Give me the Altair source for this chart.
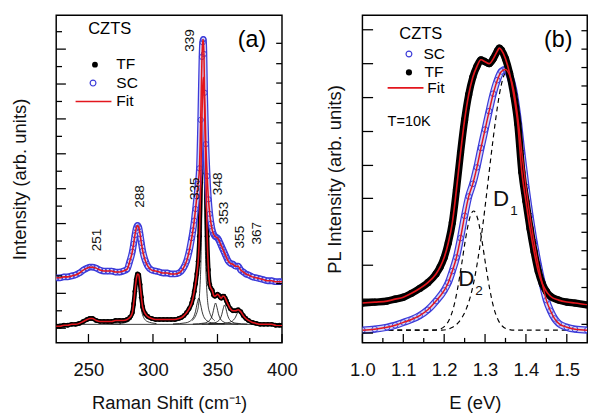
import altair as alt
import pandas as pd

FONT = "Liberation Sans"
BLUE = "#3b3bd9"
LIGHT = "#d4d4f7"
RED = "#e3161d"

# ---------------- Panel (a): Raman ----------------
ram_x = [225, 228, 231, 234, 237, 240, 243, 246, 249, 251, 253, 256, 259, 262, 265, 268, 271, 274, 277, 280,
         282, 284, 285, 286, 287, 288, 289, 290, 291, 292, 294, 296, 299, 302, 305, 308, 311, 314, 317, 320,
         322, 324, 326, 328, 330, 331, 332, 333, 334, 335, 336, 337, 338, 338.5, 339, 339.5, 340, 341, 342, 343,
         344, 345, 346, 347, 348, 349, 350, 351, 352, 353, 354, 355, 356, 357, 358, 360, 362, 364, 366, 368,
         370, 372, 374, 377, 380, 383, 386, 389, 392, 395, 398, 400]
ram_tf = [17, 17, 18, 18, 19, 19, 20, 22, 24, 25, 25, 23, 22, 22, 22, 22, 23, 23, 23, 24,
          26, 31, 40, 53, 65, 71, 70, 60, 47, 37, 30, 27, 25, 24, 24, 24, 24, 24, 24, 25,
          26, 28, 31, 35, 41, 46, 53, 61, 71, 84, 110, 165, 235, 262, 274, 265, 240, 175, 110, 75,
          60, 56, 54, 49, 48, 49, 50, 49, 47, 46, 48, 48, 46, 43, 40, 35, 33, 33, 34, 32,
          28, 25, 23, 21, 20, 19, 19, 19, 19, 18, 18, 18]
ram_sc = [67, 67, 68, 68, 69, 70, 72, 75, 77, 78, 78, 77, 75, 74, 74, 74, 73, 73, 74, 76,
          84, 94, 102, 111, 118, 121, 119, 112, 103, 95, 85, 79, 75, 74, 73, 72, 72, 71, 71, 72,
          74, 78, 84, 94, 108, 116, 126, 138, 151, 164, 180, 230, 295, 310, 313, 298, 258, 205, 172, 148,
          133, 123, 116, 112, 110, 109, 108, 106, 103, 100, 97, 94, 91, 88, 85, 82, 81, 79, 79, 75,
          73, 71, 70, 68, 67, 66, 65, 64, 64, 63, 63, 63]

# fitted Lorentzian components (x, intensity)
c_base = ([225, 400], [19, 19])
c251 = ([227, 239, 245, 248, 251, 254, 257, 263, 275], [19.3, 20, 21.5, 23, 24, 23, 21.5, 20, 19.3])
c288 = ([274, 281, 284.7, 286.5, 287.4, 288.3, 289.2, 290.1, 291.9, 295.5, 302.7],
        [19.8, 22, 29, 44.5, 60, 70, 60, 44.5, 29, 22, 19.8])
c335 = ([315.5, 325.5, 330.5, 333, 334.25, 335.5, 336.75, 338, 340.5, 345.5, 355.5],
        [19.4, 20.6, 24.4, 32.5, 40.6, 46, 40.6, 32.5, 24.4, 20.6, 19.4])
c339 = ([330.2, 334.6, 336.8, 337.9, 338.45, 339, 339.55, 340.1, 341.2, 343.4, 347.8],
        [22.7, 33.5, 68.2, 142, 215.8, 265, 215.8, 142, 68.2, 33.5, 22.7])
c348 = ([330.9, 339.7, 344.1, 346.3, 347.4, 348.5, 349.6, 350.7, 352.9, 357.3, 366.1],
        [19.3, 20.3, 23.4, 30, 36.6, 41, 36.6, 30, 23.4, 20.3, 19.3])
c355 = ([337.9, 346.7, 351.1, 353.3, 354.4, 355.5, 356.6, 357.7, 359.9, 364.3, 373.1],
        [19.3, 20.2, 23, 29, 35, 39, 35, 29, 23, 20.2, 19.3])
c367 = ([343, 355, 361, 364, 365.5, 367, 368.5, 370, 373, 379, 391],
        [19.2, 19.9, 22, 26.5, 31, 34, 31, 26.5, 22, 19.9, 19.2])

peak_text = ["251", "288", "335", "339", "348", "353", "355", "367"]
peak_x = [256.5, 290.3, 332.8, 328.7, 350.4, 354.9, 367.7, 380.5]
peak_y = [106, 151, 159, 312, 164, 134, 109, 113]

a_xmajor = [250, 300, 350, 400]
a_xminor = [275, 325, 375]
a_yleft_major = [303, 267, 231, 195, 159, 123, 87, 51, 15]
a_yleft_minor = [321, 285, 249, 213, 177, 141, 105, 69, 33]
a_yright = [309, 288, 268, 247, 227, 206, 185, 164, 143, 123, 103, 82, 61, 40, 19]

# ---------------- Panel (b): PL ----------------
pl_tf_E = [1.00, 1.03, 1.06, 1.08, 1.10, 1.12, 1.14, 1.16, 1.18, 1.19, 1.20, 1.21, 1.22, 1.23, 1.24, 1.25,
           1.26, 1.27, 1.28, 1.29, 1.30, 1.31, 1.32, 1.33, 1.335, 1.34, 1.35, 1.36, 1.37, 1.38, 1.39, 1.40,
           1.41, 1.42, 1.43, 1.44, 1.45, 1.46, 1.48, 1.50, 1.52, 1.55]
pl_tf = [41, 42, 43, 45, 47, 51, 56, 62, 71, 78, 88, 103, 124, 158, 196, 230,
         256, 274, 285, 292, 290, 288, 293, 301, 304, 302, 293, 278, 256, 226, 176, 146,
         118, 94, 74, 61, 53, 48, 44, 42, 41, 39]
pl_sc_E = [1.00, 1.03, 1.06, 1.08, 1.10, 1.12, 1.14, 1.16, 1.18, 1.20, 1.21, 1.22, 1.23, 1.24, 1.25, 1.26,
           1.27, 1.28, 1.29, 1.30, 1.31, 1.32, 1.33, 1.34, 1.35, 1.36, 1.37, 1.38, 1.39, 1.40, 1.41, 1.42,
           1.43, 1.44, 1.45, 1.46, 1.47, 1.48, 1.50, 1.52, 1.55]
pl_sc = [13, 14, 16, 18, 21, 24, 28, 34, 43, 54, 62, 74, 88, 108, 131, 151,
         164, 181, 201, 220, 239, 257, 271, 280, 282, 276, 261, 233, 196, 161, 131, 104,
         81, 61, 44, 33, 25, 20, 16, 14, 13]
d1_E = [1.00, 1.195, 1.215, 1.235, 1.255, 1.265, 1.275, 1.285, 1.295, 1.305, 1.315, 1.325, 1.335, 1.345, 1.355,
        1.365, 1.375, 1.385, 1.395, 1.405, 1.415, 1.425, 1.435, 1.445, 1.455, 1.475, 1.495, 1.515, 1.55]
d1_I = [13, 13, 15, 21, 36, 49, 68, 93, 123, 158, 194, 227.5, 256, 274.5, 281,
        274.5, 256, 227.5, 194, 158, 123, 93, 68, 49, 36, 21, 15, 13, 13]
d2_E = [1.00, 1.172, 1.192, 1.202, 1.212, 1.222, 1.232, 1.242, 1.252, 1.262, 1.272, 1.282, 1.292, 1.302, 1.312,
        1.322, 1.332, 1.342, 1.352, 1.372, 1.55]
d2_I = [13, 13, 14.5, 17.3, 23.5, 35, 54, 79, 106.5, 128, 136, 128, 106.5, 79, 54, 35, 23.5, 17.3, 14.5, 13, 13]

b_xmajor = [1.0, 1.1, 1.2, 1.3, 1.4, 1.5]
b_xminor = [1.05, 1.15, 1.25, 1.35, 1.45]
b_yleft = [323, 288, 253, 218, 183, 149, 115, 80, 45, 10]
b_yright = [322, 303, 284, 265, 246, 227, 208, 189, 170, 152, 133, 114, 95, 76, 57, 38, 19]

W_A, W_B, H = 233, 232, 338
one = pd.DataFrame({"k": [0]})


def txt(s, x, y, size=16, align="left", angle=0):
    return alt.Chart(one).mark_text(text=s, fontSize=size, font=FONT, align=align,
                                    baseline="middle", color="black", angle=angle).encode(
        x=alt.value(x), y=alt.value(y))


def dot(x, y, filled, color, size):
    if filled:
        m = alt.Chart(one).mark_circle(color=color, size=size, opacity=1)
    else:
        m = alt.Chart(one).mark_point(shape="circle", filled=False, color=color, size=size,
                                      strokeWidth=1.2, opacity=1)
    return m.encode(x=alt.value(x), y=alt.value(y))


def hline(x1, x2, y, color):
    return alt.Chart(one).mark_rule(color=color, strokeWidth=1.6).encode(
        x=alt.value(x1), x2=alt.value(x2), y=alt.value(y))


def make_panel(xs, ys, xaxis, yaxis):
    def X(f):
        return alt.X(f, type="quantitative", scale=xs, axis=xaxis)

    def Y(f):
        return alt.Y(f, type="quantitative", scale=ys, axis=yaxis)
    return X, Y


def ticks(X, Y, xmaj, xmin, yl_maj, yl_min, yr, width, lmaj, lmin, lr):
    layers = []
    for vals, ln in ((xmaj, 9), (xmin, 5)):
        layers.append(alt.Chart(pd.DataFrame({"v": vals})).mark_rule(color="black", strokeWidth=1.3).encode(
            x=X("v"), y=alt.value(H), y2=alt.value(H - ln)))
    for vals, ln in ((yl_maj, lmaj), (yl_min, lmin)):
        if vals:
            layers.append(alt.Chart(pd.DataFrame({"v": vals})).mark_rule(color="black", strokeWidth=1.3).encode(
                y=Y("v"), x=alt.value(0), x2=alt.value(ln)))
    layers.append(alt.Chart(pd.DataFrame({"v": yr})).mark_rule(color="black", strokeWidth=1.3).encode(
        y=Y("v"), x=alt.value(width), x2=alt.value(width - lr)))
    return layers


# ---- panel a
xa = alt.Scale(domain=[225, 400], nice=False, zero=False)
ya = alt.Scale(domain=[0, H], nice=False, zero=False)
ax_xa = alt.Axis(values=a_xmajor, ticks=False, tickSize=0, domain=False, grid=False, labelFontSize=19,
                 labelPadding=19, labelFlush=False, format="d", title="Raman Shift (cm⁻¹)",
                 titleFontSize=19, titleFontWeight="normal", titlePadding=15,
                 labelColor="#111", titleColor="#111", labelFont=FONT, titleFont=FONT)
ax_ya = alt.Axis(labels=False, ticks=False, domain=False, grid=False, title="Intensity (arb. units)",
                 titleFontSize=19, titleFontWeight="normal", titlePadding=28, titleColor="#111", titleFont=FONT)
Xa, Ya = make_panel(xa, ya, ax_xa, ax_ya)

dfa = pd.DataFrame({"x": ram_x, "tf": ram_tf, "sc": ram_sc})
comp_rows = []
for name, (cx, cy) in {"base": c_base, "251": c251, "288": c288, "335": c335, "339": c339,
                       "348": c348, "355": c355, "367": c367}.items():
    for a, b in zip(cx, cy):
        comp_rows.append({"comp": name, "x": a, "y": b})
dfc = pd.DataFrame(comp_rows)
dfp = pd.DataFrame({"t": peak_text, "x": peak_x, "y": peak_y})

ca = alt.Chart(dfa)
layers_a = [
    alt.Chart(dfc).mark_line(color="black", strokeWidth=0.8, interpolate="monotone", clip=True).encode(
        x=Xa("x"), y=Ya("y"), detail="comp:N"),
    ca.mark_line(color="black", strokeWidth=4.5, interpolate="monotone", clip=True).encode(x=Xa("x"), y=Ya("tf")),
    ca.mark_circle(color="black", size=26, opacity=1, clip=True).encode(x=Xa("x"), y=Ya("tf")),
    ca.mark_line(color=BLUE, strokeWidth=7, interpolate="monotone", clip=True).encode(x=Xa("x"), y=Ya("sc")),
    ca.mark_line(color=LIGHT, strokeWidth=4.4, interpolate="monotone", clip=True).encode(x=Xa("x"), y=Ya("sc")),
    ca.mark_point(shape="circle", filled=False, color=BLUE, size=30, strokeWidth=1, opacity=1, clip=True).encode(
        x=Xa("x"), y=Ya("sc")),
    ca.mark_line(color=RED, strokeWidth=1.6, interpolate="monotone", clip=True).encode(x=Xa("x"), y=Ya("tf")),
    ca.mark_line(color=RED, strokeWidth=1.6, interpolate="monotone", clip=True).encode(x=Xa("x"), y=Ya("sc")),
    alt.Chart(dfp).mark_text(angle=270, fontSize=14, font=FONT, align="center", baseline="middle",
                             color="#111").encode(x=Xa("x"), y=Ya("y"), text="t:N"),
]
layers_a += ticks(Xa, Ya, a_xmajor, a_xminor, a_yleft_major, a_yleft_minor, a_yright, W_A, 10, 6, 6)
layers_a += [
    txt("CZTS", 33, 14, 17),
    dot(40, 51, True, "black", 36), txt("TF", 62, 51, 16),
    dot(38, 70, False, BLUE, 36), txt("SC", 62, 70, 16),
    hline(20, 57, 89, RED), txt("Fit", 62, 89, 16),
    txt("(a)", 202, 26, 24, "center"),
]
panel_a = alt.layer(*layers_a).properties(width=W_A, height=H)

# ---- panel b
xb = alt.Scale(domain=[1.0, 1.55], nice=False, zero=False)
yb = alt.Scale(domain=[0, H], nice=False, zero=False)
ax_xb = alt.Axis(values=b_xmajor, ticks=False, tickSize=0, domain=False, grid=False, labelFontSize=19,
                 labelPadding=19, labelFlush=False, format=".1f", title="E (eV)",
                 titleFontSize=19, titleFontWeight="normal", titlePadding=15,
                 labelColor="#111", titleColor="#111", labelFont=FONT, titleFont=FONT)
ax_yb = alt.Axis(labels=False, ticks=False, domain=False, grid=False, title="PL Intensity (arb. units)",
                 titleFontSize=19, titleFontWeight="normal", titlePadding=19, titleColor="#111", titleFont=FONT)
Xb, Yb = make_panel(xb, yb, ax_xb, ax_yb)

dft = pd.DataFrame({"E": pl_tf_E, "I": pl_tf})
dfs = pd.DataFrame({"E": pl_sc_E, "I": pl_sc})
dfd = pd.concat([pd.DataFrame({"g": "D1", "E": d1_E, "I": d1_I}),
                 pd.DataFrame({"g": "D2", "E": d2_E, "I": d2_I})])
dfl = pd.DataFrame({"t": ["D", "1", "D", "2"], "E": [1.339, 1.371, 1.254, 1.285], "I": [148, 136, 66, 53],
                    "s": [23, 14, 23, 14]})

ct, cs = alt.Chart(dft), alt.Chart(dfs)
layers_b = [
    alt.Chart(dfd).mark_line(color="black", strokeWidth=1.2, strokeDash=[5, 4], interpolate="monotone",
                             clip=True).encode(x=Xb("E"), y=Yb("I"), detail="g:N"),
    cs.mark_line(color=BLUE, strokeWidth=7.5, interpolate="monotone", clip=True).encode(x=Xb("E"), y=Yb("I")),
    cs.mark_line(color=LIGHT, strokeWidth=5, interpolate="monotone", clip=True).encode(x=Xb("E"), y=Yb("I")),
    cs.mark_point(shape="circle", filled=False, color=BLUE, size=34, strokeWidth=1, opacity=1, clip=True).encode(
        x=Xb("E"), y=Yb("I")),
    ct.mark_line(color="black", strokeWidth=7.5, interpolate="monotone", clip=True).encode(x=Xb("E"), y=Yb("I")),
    ct.mark_circle(color="black", size=55, opacity=1, clip=True).encode(x=Xb("E"), y=Yb("I")),
    cs.mark_line(color=RED, strokeWidth=1.5, interpolate="monotone", clip=True).encode(x=Xb("E"), y=Yb("I")),
    ct.mark_line(color=RED, strokeWidth=1.7, interpolate="monotone", clip=True).encode(x=Xb("E"), y=Yb("I")),
    alt.Chart(dfl).mark_text(font=FONT, align="center", baseline="middle", color="#111").encode(
        x=Xb("E"), y=Yb("I"), text="t:N", size=alt.Size("s:Q", scale=None, legend=None)),
]
layers_b += ticks(Xb, Yb, b_xmajor, b_xminor, b_yleft, [], b_yright, W_B, 11, 6, 6)
layers_b += [
    txt("CZTS", 38, 20, 17),
    dot(48, 40, False, BLUE, 36), txt("SC", 63, 40, 16),
    dot(48, 59, True, "black", 40), txt("TF", 64, 59, 16),
    hline(26, 63, 75, RED), txt("Fit", 67, 75, 16),
    txt("T=10K", 26, 109, 15),
    txt("(b)", 202, 26, 24, "center"),
]
panel_b = alt.layer(*layers_b).properties(width=W_B, height=H)

chart = alt.hconcat(panel_a, panel_b, spacing=27).properties(
    padding={"left": 10, "top": 8, "right": 6, "bottom": 0}
).configure(font=FONT).configure_view(stroke="black", strokeWidth=1.5)

chart.save("out.html", embed_options={"renderer": "svg", "actions": False})
